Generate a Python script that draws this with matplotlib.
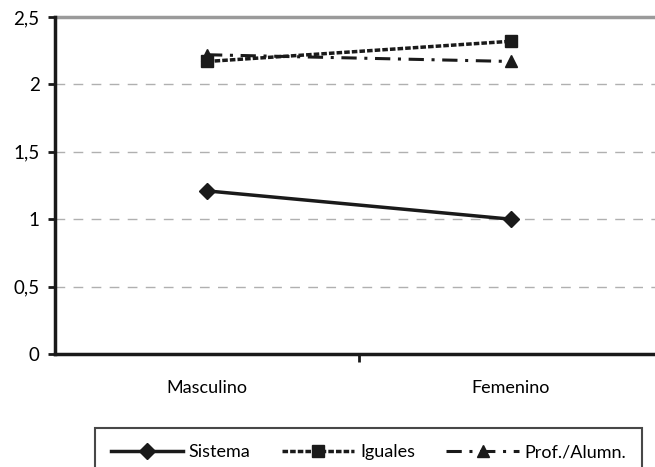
import matplotlib
matplotlib.use("Agg")
import matplotlib.pyplot as plt
from matplotlib.ticker import FixedLocator

plt.rcParams['font.family'] = ['Lato', 'DejaVu Sans']

categories = ["Masculino", "Femenino"]
sistema = [1.21, 1.00]
iguales = [2.17, 2.32]
prof_alumn = [2.22, 2.17]
y_ticks = [0, 0.5, 1, 1.5, 2, 2.5]
y_labels = ["0", "0,5", "1", "1,5", "2", "2,5"]

fig = plt.figure(figsize=(6.55, 4.67), dpi=100)
ax = fig.add_axes([55 / 655, 1 - 354 / 467, 608 / 655, 337 / 467])

x = list(range(len(categories)))

# gridlines
for yv in y_ticks[1:-1]:
    ax.axhline(yv, color="#b0b0b0", lw=1.0, dashes=(7, 6), zorder=1)
ax.axhline(2.5, color="#9a9a9a", lw=2.5, zorder=1, clip_on=False)

ax.plot(x, sistema, color="#1a1a1a", lw=2.5, marker="D", ms=8,
        label="Sistema", zorder=3)
ax.plot(x, iguales, color="#1a1a1a", lw=2.5, dashes=(1.6, 0.6), marker="s", ms=9,
        label="Iguales", zorder=3)
ax.plot(x, prof_alumn, color="#1a1a1a", lw=2.2, dashes=(5, 2.5, 1, 2.5),
        marker="^", ms=9, label="Prof./Alumn.", zorder=3)

ax.set_xlim(-0.5, 1.5)
ax.set_ylim(0, 2.5)

ax.set_yticks(y_ticks)
ax.set_yticklabels(y_labels, fontsize=13.5)
ax.tick_params(axis="y", length=5, width=2, pad=6, color="#1a1a1a")

ax.set_xticks(x)
ax.set_xticklabels(categories, fontsize=13)
ax.tick_params(axis="x", which="major", length=0, pad=19)
ax.xaxis.set_minor_locator(FixedLocator([0.5]))
ax.tick_params(axis="x", which="minor", length=6, width=2, color="#1a1a1a")

for side in ["top", "right"]:
    ax.spines[side].set_visible(False)
for side in ["left", "bottom"]:
    ax.spines[side].set_linewidth(2.5)
    ax.spines[side].set_color("#1a1a1a")

leg = fig.legend(loc="upper left", bbox_to_anchor=(95 / 655, 1 - 428 / 467),
                 ncol=3, fontsize=13, frameon=True, fancybox=False,
                 handlelength=4.0, columnspacing=1.75, borderpad=0.9,
                 handletextpad=0.3, borderaxespad=0)
leg.get_frame().set_edgecolor("#1a1a1a")
leg.get_frame().set_linewidth(1.5)

fig.savefig("out.png", dpi=100)
